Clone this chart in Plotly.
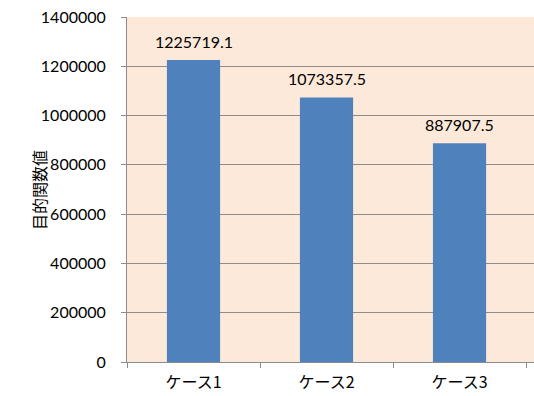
import plotly.graph_objects as go

# Objective function value per case
cases = ["ケース1", "ケース2", "ケース3"]
values = [1225719.1, 1073357.5, 887907.5]
value_labels = ["1225719.1", "1073357.5", "887907.5"]
y_ticks = [0, 200000, 400000, 600000, 800000, 1000000, 1200000, 1400000]

latin = "Lato, 'Open Sans', sans-serif"
cjk = "'Noto Sans CJK JP', sans-serif"

fig = go.Figure(
    go.Bar(
        x=cases,
        y=values,
        marker=dict(color="#4F81BD", line=dict(width=0)),
        hoverinfo="skip",
    )
)

for c, v, t in zip(cases, values, value_labels):
    fig.add_annotation(
        x=c, y=v, text=t, showarrow=False,
        xref="x", yref="y", yanchor="bottom", yshift=7,
        font=dict(family=latin, size=16, color="#000000"),
    )

fig.add_annotation(
    xref="paper", yref="paper", x=-0.252, y=0.5,
    text="目的関数値", textangle=-90, showarrow=False,
    font=dict(family=cjk, size=16, color="#000000"),
)

fig.update_layout(
    width=534, height=396,
    margin=dict(l=127, r=0, t=17, b=34),
    paper_bgcolor="#FFFFFF",
    plot_bgcolor="#FDE9D9",
    bargap=0.6,
    showlegend=False,
)

fig.update_xaxes(
    type="category",
    range=[-0.5, 2.56],
    showgrid=False,
    showline=True, linecolor="#8C8C8C", linewidth=1,
    ticks="outside", tickson="boundaries", ticklen=5, tickcolor="#8C8C8C",
    tickfont=dict(family=cjk, size=16, color="#000000"),
    ticklabelstandoff=6,
    zeroline=False,
)

fig.update_yaxes(
    range=[0, 1400000],
    tickvals=y_ticks,
    ticktext=[str(v) for v in y_ticks],
    showgrid=True, gridcolor="#8C8C8C", gridwidth=1,
    showline=True, linecolor="#8C8C8C", linewidth=1,
    ticks="outside", ticklen=5, tickcolor="#8C8C8C",
    tickfont=dict(family=latin, size=16, color="#000000"),
    ticklabelstandoff=12,
    zeroline=False,
)

fig.write_html("out.html")
